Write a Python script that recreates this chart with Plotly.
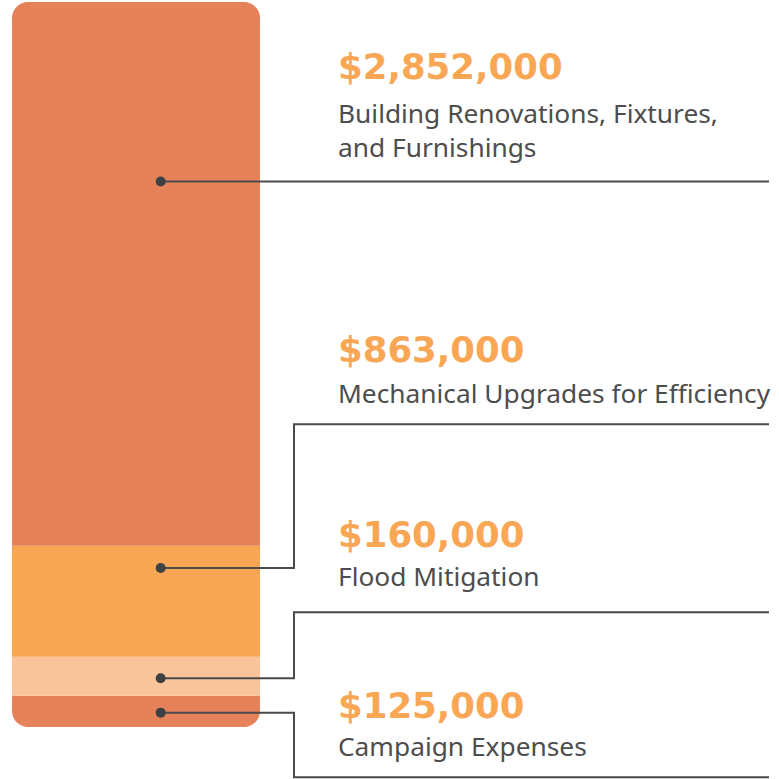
import plotly.graph_objects as go

# ---------------- data ----------------
categories = [
    "Campaign Expenses",
    "Flood Mitigation",
    "Mechanical Upgrades for Efficiency",
    "Building Renovations, Fixtures,<br>and Furnishings",
]
amounts = [125000, 160000, 863000, 2852000]
# share of the bar height each segment occupies in the picture (%)
display_share = [4.3, 5.4, 15.3, 75.0]
colors = ["#E6825A", "#FAC49B", "#F7A653", "#E6825A"]
# where the pointer dot sits inside each segment (0 = bottom, 1 = top)
dot_frac = [0.46, 0.45, 0.80, 0.67]

# ---------------- layout constants (pixels) ----------------
W = H = 779
BAR_L, BAR_R = 12, 260
BAR_TOP, BAR_BOTTOM = 2, 727
DOT_X = 160.7
ELBOW_X = 294
RULE_END_X = 769
RULE_Y = [777.3, 612.3, 424.3, None]   # None -> straight line at dot height
AMT_BASE = [718, 546.7, 361.7, 79]
LAB_BASE = [755, 585, 401.7, 121.7]
TEXT_X = 336
AMT_FS, LAB_FS = 35.5, 26.3
LINE_COLOR = "#4a4a4a"
AMT_COLOR = "#F9A755"
LAB_COLOR = "#4d4d4d"

px_per_unit = (BAR_BOTTOM - BAR_TOP) / sum(display_share)
zero_px = BAR_BOTTOM - display_share[0] * px_per_unit
bar_w_px = BAR_R - BAR_L
bar_c_px = (BAR_L + BAR_R) / 2


def xd(px):
    return (px - bar_c_px) / bar_w_px


def yd(py):
    return (zero_px - py) / px_per_unit


fig = go.Figure()

# stacked bar: bottom segment drawn downward from 0 so both ends get rounded
for i, (cat, share, col) in enumerate(zip(categories, display_share, colors)):
    val = -share if i == 0 else share
    fig.add_trace(go.Bar(
        x=[0], y=[val], width=1, marker=dict(color=col, line=dict(width=0)),
        name=cat.replace("<br>", " "), hoverinfo="skip", showlegend=False,
    ))

# segment bounds in data units
bounds = []
lo = -display_share[0]
for s in display_share:
    bounds.append((lo, lo + s))
    lo = lo + s

# connectors and dots
for i in range(len(categories)):
    b0, b1 = bounds[i]
    ydot = b0 + dot_frac[i] * (b1 - b0)
    if RULE_Y[i] is None:
        xs = [xd(DOT_X), xd(RULE_END_X)]
        ys = [ydot, ydot]
    else:
        yr = yd(RULE_Y[i])
        xs = [xd(DOT_X), xd(ELBOW_X), xd(ELBOW_X), xd(RULE_END_X)]
        ys = [ydot, ydot, yr, yr]
    fig.add_trace(go.Scatter(x=xs, y=ys, mode="lines",
                             line=dict(color=LINE_COLOR, width=2),
                             hoverinfo="skip", showlegend=False))
    fig.add_trace(go.Scatter(x=[xd(DOT_X)], y=[ydot], mode="markers",
                             marker=dict(color="#3d4144", size=10),
                             hoverinfo="skip", showlegend=False))

annotations = []
for i, (cat, amt) in enumerate(zip(categories, amounts)):
    annotations.append(dict(
        x=xd(TEXT_X), y=yd(AMT_BASE[i] - 0.346 * AMT_FS), xref="x", yref="y",
        text=f"<b>${amt:,}</b>", showarrow=False, xanchor="left", yanchor="middle",
        font=dict(family="DejaVu Sans", size=AMT_FS, color=AMT_COLOR),
    ))
    nlines = cat.count("<br>") + 1
    mid = LAB_BASE[i] + (nlines - 1) * 1.3 * LAB_FS / 2 - 0.33 * LAB_FS
    annotations.append(dict(
        x=xd(TEXT_X), y=yd(mid), xref="x", yref="y",
        text=cat, showarrow=False, xanchor="left", yanchor="middle", align="left",
        font=dict(family="Noto Sans", size=LAB_FS, color=LAB_COLOR),
    ))

fig.update_layout(
    width=W, height=H, margin=dict(l=0, r=0, t=0, b=0),
    barmode="relative", barcornerradius=16,
    paper_bgcolor="white", plot_bgcolor="white",
    xaxis=dict(range=[xd(0), xd(W)], visible=False, fixedrange=True),
    yaxis=dict(range=[yd(H), yd(0)], visible=False, fixedrange=True),
    annotations=annotations, showlegend=False,
)

fig.write_html("out.html", post_script="document.body.style.margin='0px';",
               config={"displayModeBar": False})
